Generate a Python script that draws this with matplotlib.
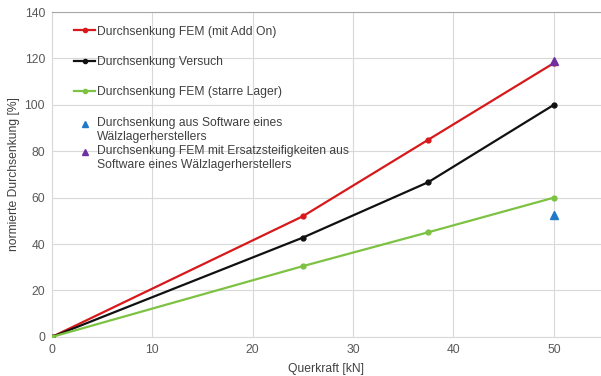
import matplotlib.pyplot as plt
from matplotlib.lines import Line2D
from matplotlib.legend_handler import HandlerLine2D

plt.rcParams["font.family"] = ["Liberation Sans", "DejaVu Sans"]

# --- Daten ---
querkraft = [0, 25, 37.5, 50]
fem_addon = [0, 52, 85, 118]
versuch = [0, 42.8, 66.7, 100]
fem_starr = [0, 30.5, 45.1, 60]
sw_x, sw_y = [50], [52.5]
fem_ers_x, fem_ers_y = [50], [119]

labels_lines = ["Durchsenkung FEM (mit Add On)",
                "Durchsenkung Versuch",
                "Durchsenkung FEM (starre Lager)"]
labels_tri = ["Durchsenkung aus Software eines\nWälzlagerherstellers",
              "Durchsenkung FEM mit Ersatzsteifigkeiten aus\nSoftware eines Wälzlagerherstellers"]

c_red, c_blk, c_grn = "#D7191C", "#111111", "#7DC243"
c_blue, c_purp = "#1F78C8", "#7030A0"
txt = "#595959"
fs = 8.7

fig = plt.figure(figsize=(6.01, 3.76), dpi=100)
ax = fig.add_axes([0.0865, 0.104, 0.9135, 0.864])

for y, c in zip([fem_addon, versuch, fem_starr], [c_red, c_blk, c_grn]):
    ax.plot(querkraft, y, color=c, lw=1.6, marker="o", ms=3.5, zorder=3)
ax.plot(sw_x, sw_y, ls="none", marker="^", ms=6, color=c_blue, zorder=4)
ax.plot(fem_ers_x, fem_ers_y, ls="none", marker="^", ms=6, color=c_purp, zorder=4)

ax.set_xlim(0, 54.7)
ax.set_ylim(0, 140)
ax.set_xticks([0, 10, 20, 30, 40, 50])
ax.set_yticks(range(0, 141, 20))
ax.grid(True, color="#D9D9D9", lw=0.8)
ax.set_axisbelow(True)
for s in ["left", "bottom"]:
    ax.spines[s].set_color("#D9D9D9")
ax.spines["right"].set_visible(False)
ax.spines["top"].set_color("#A6A6A6")
ax.tick_params(length=0, labelsize=fs, colors=txt, pad=5)
ax.set_xlabel("Querkraft [kN]", fontsize=fs, color="#404040", labelpad=5)
ax.set_ylabel("normierte Durchsenkung [%]", fontsize=fs, color="#404040", labelpad=3)

h1 = [Line2D([], [], color=c, lw=1.6, marker="o", ms=3)
      for c in [c_red, c_blk, c_grn]]
leg1 = ax.legend(h1, labels_lines, loc="upper left", bbox_to_anchor=(0.04, 0.958),
                 frameon=False, fontsize=fs, labelspacing=1.52, handlelength=1.75,
                 handletextpad=0.15, borderaxespad=0, borderpad=0)
for t in leg1.get_texts():
    t.set_color("#404040")
ax.add_artist(leg1)


# Dreieck auf Höhe der ersten Textzeile
def shift_up(leg_handle, orig):
    leg_handle.update_from(orig)
    leg_handle.set_ydata(leg_handle.get_ydata() + 4.5)


h2 = [Line2D([], [], ls="none", marker="^", ms=5, color=c) for c in [c_blue, c_purp]]
leg2 = ax.legend(h2, labels_tri, loc="upper left", bbox_to_anchor=(0.04, 0.677),
                 frameon=False, fontsize=fs, labelspacing=0.18, handlelength=1.75,
                 handletextpad=0.15, borderaxespad=0, borderpad=0,
                 handler_map={Line2D: HandlerLine2D(update_func=shift_up)})
for t in leg2.get_texts():
    t.set_color("#404040")
    t.set_linespacing(1.22)

fig.savefig("out.png", dpi=100)
